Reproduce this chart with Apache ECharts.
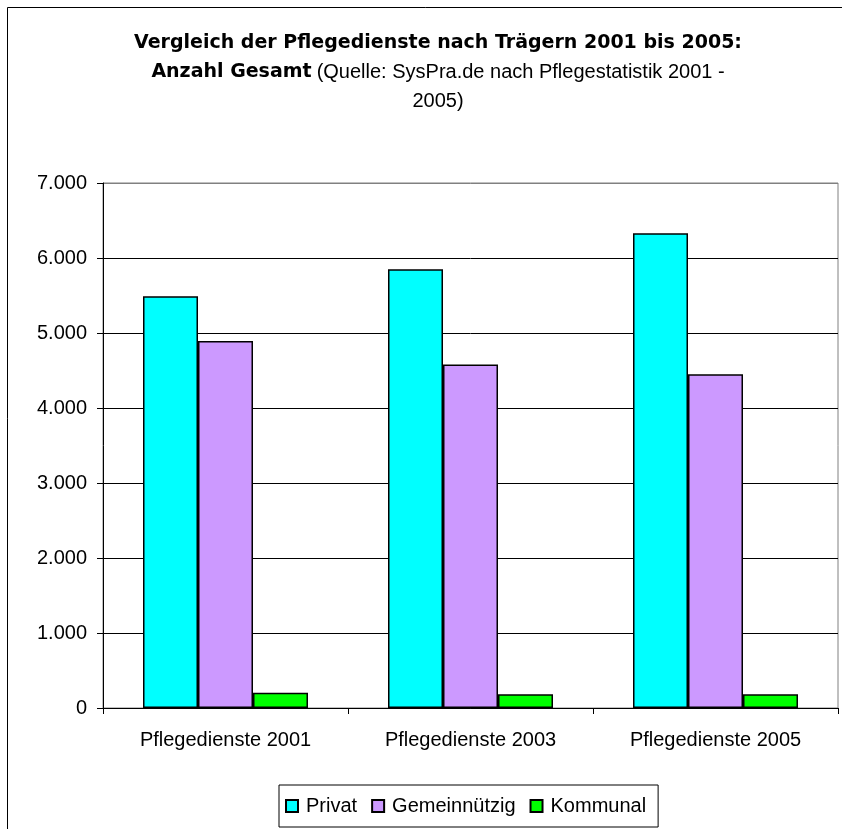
<!DOCTYPE html>
<html>
<head>
<meta charset="utf-8">
<script src="https://cdn.jsdelivr.net/npm/echarts@6/dist/echarts.min.js"></script>
<style>
  html, body { margin: 0; padding: 0; background: #fff; }
  #chart { width: 842px; height: 829px; }
</style>
</head>
<body>
<div id="chart"></div>
<script>
// Daten
const categories = ["Pflegedienste 2001", "Pflegedienste 2003", "Pflegedienste 2005"];
const seriesNames = ["Privat", "Gemeinnützig", "Kommunal"];
const privat = [5490, 5850, 6330];
const gemeinnuetzig = [4895, 4580, 4450];
const kommunal = [205, 185, 185];
const yTicks = [0, 1000, 2000, 3000, 4000, 5000, 6000, 7000];

const colors = ["#00FFFF", "#CC99FF", "#00FF00"];
const fontFamily = "'Liberation Sans', Arial, sans-serif";
const boldFamily = "'DejaVu Sans', 'Liberation Sans', sans-serif";

// Tausenderpunkt wie im Original
const formatDe = (v) => String(v).replace(/\B(?=(\d{3})+(?!\d))/g, ".");

const chart = echarts.init(document.getElementById("chart"));

const barStyle = (color) => ({
  color: color,
  borderColor: "#000",
  borderWidth: 1.5,
});

const option = {
  backgroundColor: "#fff",
  animation: false,
  textStyle: { fontFamily: fontFamily, color: "#000" },
  title: {
    left: 433,
    top: 24,
    textAlign: "center",
    text:
      "{b|Vergleich der Pflegedienste nach Trägern 2001 bis 2005:}\n" +
      "{b|Anzahl Gesamt} {n|(Quelle: SysPra.de nach Pflegestatistik 2001 -}\n" +
      "{n|2005)}",
    textStyle: {
      rich: {
        b: { fontSize: 19, fontWeight: "bold", fontFamily: boldFamily, color: "#000", lineHeight: 29 },
        n: { fontSize: 20, fontWeight: "normal", fontFamily: fontFamily, color: "#000", lineHeight: 29 },
      },
    },
  },
  graphic: [
    {
      type: "rect",
      shape: { x: 7.5, y: 7.5, width: 900, height: 900 },
      style: { fill: "none", stroke: "#000", lineWidth: 1 },
      silent: true,
      z: -1,
    },
  ],
  legend: {
    data: seriesNames,
    left: 279,
    top: 785,
    orient: "horizontal",
    icon: "rect",
    itemWidth: 12,
    itemHeight: 12,
    itemGap: 14,
    padding: [11, 12, 11, 6],
    borderColor: "#000",
    borderWidth: 1,
    backgroundColor: "#fff",
    textStyle: { fontSize: 20, fontFamily: fontFamily, color: "#000", padding: [0, 0, 0, 3] },
  },
  grid: {
    left: 103,
    top: 183,
    width: 735,
    height: 525,
    show: true,
    borderColor: "#808080",
    borderWidth: 1,
    containLabel: false,
  },
  xAxis: {
    type: "category",
    data: categories,
    boundaryGap: true,
    axisLine: { show: true, lineStyle: { color: "#000", width: 1 } },
    axisTick: { show: true, alignWithLabel: false, length: 6, lineStyle: { color: "#000" } },
    axisLabel: { fontSize: 20, color: "#000", margin: 22, fontFamily: fontFamily },
  },
  yAxis: {
    type: "value",
    min: 0,
    max: 7000,
    interval: 1000,
    axisLine: { show: true, lineStyle: { color: "#000", width: 1 } },
    axisTick: { show: true, inside: false, length: 6, lineStyle: { color: "#000" } },
    axisLabel: {
      fontSize: 20,
      color: "#000",
      margin: 16,
      fontFamily: fontFamily,
      formatter: (v) => formatDe(v),
    },
    splitLine: {
      show: true,
      lineStyle: {
        color: yTicks.map((t, i) => (i === yTicks.length - 1 ? "#808080" : "#000")),
        width: 1,
      },
    },
  },
  series: [
    { name: seriesNames[0], type: "bar", data: privat, barWidth: 55, barGap: "0%", itemStyle: barStyle(colors[0]) },
    { name: seriesNames[1], type: "bar", data: gemeinnuetzig, barWidth: 55, barGap: "0%", itemStyle: barStyle(colors[1]) },
    { name: seriesNames[2], type: "bar", data: kommunal, barWidth: 55, barGap: "0%", itemStyle: barStyle(colors[2]) },
  ],
};

chart.setOption(option);
</script>
</body>
</html>
